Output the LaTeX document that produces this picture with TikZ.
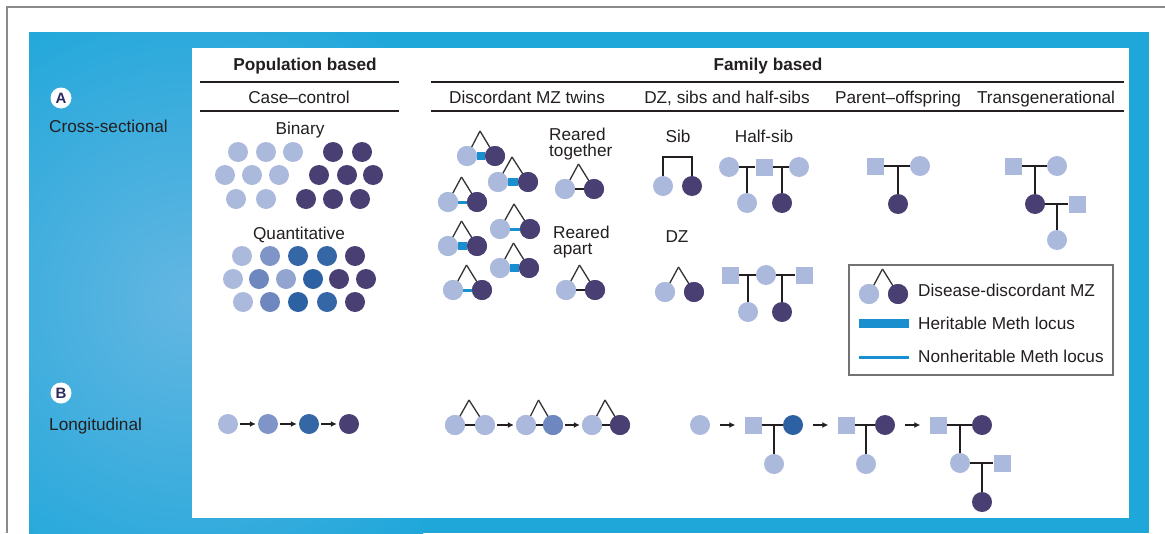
\documentclass[tikz,border=0pt]{standalone}
\usepackage{fontspec}
\setmainfont{Liberation Sans}
\usetikzlibrary{arrows.meta}
\definecolor{cLight}{HTML}{AAB9DC}
\definecolor{cMid}{HTML}{7F95C8}
\definecolor{cMidB}{HTML}{6E87BE}
\definecolor{cMidC}{HTML}{92A5D1}
\definecolor{cBlue}{HTML}{3567A7}
\definecolor{cBlueB}{HTML}{2C62A3}
\definecolor{cDark}{HTML}{4A3F72}
\definecolor{barblue}{HTML}{1A8FCF}
\definecolor{textdark}{HTML}{231F20}
\definecolor{panelblue}{HTML}{1FA7DA}
\definecolor{panellight}{HTML}{64B6E2}
\definecolor{framegray}{HTML}{8A8A8A}
\definecolor{badgetext}{HTML}{2B2A5E}
\newcommand{\mztwin}[7]{%
  \coordinate (#1a) at ({(#2+#3)/2-1},{#4-25});
  \draw[apexline] (#1a) -- (#2,#4);
  \draw[apexline] (#1a) -- (#3,#4);
  \node[pc, fill=cLight] (#1l) at (#2,#4) {};
  \node[pc, fill=#7] (#1r) at (#3,#4) {};
  \draw[#6] (#1l) -- (#1r);
  \node[pc, fill=cLight] at (#1l) {};
  \node[pc, fill=#7] at (#1r) {};
}
\begin{document}
\begin{tikzpicture}[x=1pt,y=-1pt,
  txt/.style={font=\fontsize{17.2}{15.5}\selectfont, text=textdark, inner sep=0pt, anchor=base},
  btxt/.style={txt, font=\fontsize{17.2}{15.5}\selectfont\bfseries},
  rule/.style={line width=2pt, textdark},
  pc/.style={circle, minimum size=20pt, inner sep=0pt, draw=none},
  ps/.style={rectangle, minimum size=17pt, inner sep=0pt, draw=none, fill=cLight},
  ped/.style={line width=2pt, textdark},
  apexline/.style={line width=1.3pt, black!80},
  herit/.style={line width=8pt, barblue},
  nonherit/.style={line width=3pt, barblue},
  blackbar/.style={line width=2pt, textdark},
  nobar/.style={draw=none},
  arr/.style={-{Latex[length=6pt,width=6pt]}, line width=2pt, textdark, shorten <=2pt, shorten >=2pt},
  badge/.style={circle, fill=white, minimum size=21pt, inner sep=0pt, text=badgetext, font=\fontsize{15}{15}\selectfont\bfseries}
]
\useasboundingbox (0,0) rectangle (1165,533);
\fill[white] (0,0) rectangle (1165,533);
\draw[framegray, line width=2pt] (7,533) -- (7,7) -- (1165,7);
\begin{scope}
  \clip (29,32) rectangle (1149,533);
  \fill[panelblue] (29,32) rectangle (1149,533);
  \shade[inner color=panellight, outer color=panelblue] (190,300) circle (330);
\end{scope}
\fill[white] (192,48) rectangle (1129,518);

% left labels
\node[badge] (bA) at (61,98) {A};
\node[txt, anchor=base west] (lA) at (49,132) {Cross-sectional};
\node[badge] (bB) at (61,393) {B};
\node[txt, anchor=base west] (lB) at (49,430) {Longitudinal};

% headers
\node[btxt] (hpop) at (305,70) {Population based};
\node[btxt] (hfam) at (768,70) {Family based};
\coordinate (r1a) at (200,82); \coordinate (r1b) at (399,82);
\coordinate (r2a) at (200,111); \coordinate (r2b) at (399,111);
\coordinate (r3a) at (431,82); \coordinate (r3b) at (1124,82);
\coordinate (r4a) at (431,111); \coordinate (r4b) at (1124,111);
\draw[rule] (r1a) -- (r1b); \draw[rule] (r2a) -- (r2b);
\draw[rule] (r3a) -- (r3b); \draw[rule] (r4a) -- (r4b);
\node[txt] (scc) at (299,103) {Case--control};
\node[txt] (smz) at (527,103) {Discordant MZ twins};
\node[txt] (sdz) at (727,103) {DZ, sibs and half-sibs};
\node[txt] (spo) at (898,103) {Parent--offspring};
\node[txt] (stg) at (1046,103) {Transgenerational};

% binary
\node[txt] (tbin) at (300,134) {Binary};
\foreach \x/\y [count=\i] in {238/152,266/152,293/152,225/175,252/175,279/175,236/199,266/199}
  \node[pc, fill=cLight] (bl\i) at (\x,\y) {};
\foreach \x/\y [count=\i] in {333/152,362/152,319/175,347/175,373/175,306/199,333/199,360/199}
  \node[pc, fill=cDark] (bd\i) at (\x,\y) {};

% quantitative
\node[txt] (tqu) at (299,239) {Quantitative};
\foreach \x/\y/\c [count=\i] in {242/256/cLight,270/256/cMid,298/256/cBlue,327/256/cBlue,355/256/cDark,
  233/279/cLight,259/279/cMidB,286/279/cMidC,313/279/cBlueB,339/279/cDark,366/279/cDark,
  243/302/cLight,270/302/cMidB,298/302/cBlueB,327/302/cBlue,355/302/cDark}
  \node[pc, fill=\c] (q\i) at (\x,\y) {};

% MZ twins
\mztwin{t1}{467}{495}{156}{}{herit}{cDark}
\mztwin{t2}{498}{528}{182}{}{herit}{cDark}
\mztwin{t3}{448}{477}{202}{}{nonherit}{cDark}
\mztwin{t4}{500}{530}{229}{}{nonherit}{cDark}
\mztwin{t5}{448}{477}{246}{}{herit}{cDark}
\mztwin{t6}{500}{529}{268}{}{herit}{cDark}
\mztwin{t7}{453}{482}{290}{}{nonherit}{cDark}
\node[txt, anchor=base west, align=left] (trt) at (549,156) {Reared\\together};
\mztwin{rt}{565}{594}{189}{}{blackbar}{cDark}
\node[txt, anchor=base west, align=left] (tra) at (553,254) {Reared\\apart};
\mztwin{ra}{566}{595}{290}{}{blackbar}{cDark}

% Sib
\node[txt] (tsib) at (678,142) {Sib};
\node[pc, fill=cLight] (sib1) at (663,186) {};
\node[pc, fill=cDark] (sib2) at (692,186) {};
\coordinate (sibm) at (677,157);
\draw[ped] (sib1) |- (sibm) -| (sib2);

% Half-sib
\node[txt] (thsib) at (764,142) {Half-sib};
\node[pc, fill=cLight] (hs1) at (729,167) {};
\node[ps] (hs2) at (764,167) {};
\node[pc, fill=cLight] (hs3) at (799,167) {};
\node[pc, fill=cLight] (hsc1) at (747,203) {};
\node[pc, fill=cDark] (hsc2) at (782,203) {};
\coordinate (hsm1) at (747,167); \coordinate (hsm2) at (782,167);
\draw[ped] (hs1) -- (hs2); \draw[ped] (hs2) -- (hs3);
\draw[ped] (hsm1) -- (hsc1); \draw[ped] (hsm2) -- (hsc2);

% DZ
\node[txt] (tdz) at (677,242) {DZ};
\mztwin{dz}{665}{694}{292}{}{nobar}{cDark}

% lower half-sib
\node[ps] (lh1) at (730,275) {};
\node[pc, fill=cLight] (lh2) at (766,275) {};
\node[ps] (lh3) at (804,275) {};
\node[pc, fill=cLight] (lhc1) at (748,312) {};
\node[pc, fill=cDark] (lhc2) at (782,312) {};
\coordinate (lhm1) at (748,275); \coordinate (lhm2) at (782,275);
\draw[ped] (lh1) -- (lh2); \draw[ped] (lh2) -- (lh3);
\draw[ped] (lhm1) -- (lhc1); \draw[ped] (lhm2) -- (lhc2);

% Parent-offspring
\node[ps] (po1) at (875,166) {};
\node[pc, fill=cLight] (po2) at (920,166) {};
\node[pc, fill=cDark] (poc) at (898,204) {};
\coordinate (pom) at (898,166);
\draw[ped] (po1) -- (po2); \draw[ped] (pom) -- (poc);

% Transgenerational
\node[ps] (tg1) at (1013,166) {};
\node[pc, fill=cLight] (tg2) at (1057,166) {};
\node[pc, fill=cDark] (tgc) at (1035,204) {};
\node[ps] (tg3) at (1077,204) {};
\node[pc, fill=cLight] (tgg) at (1057,240) {};
\coordinate (tgm1) at (1035,166); \coordinate (tgm2) at (1057,204);
\draw[ped] (tg1) -- (tg2); \draw[ped] (tgm1) -- (tgc);
\draw[ped] (tgc) -- (tg3); \draw[ped] (tgm2) -- (tgg);

% legend
\draw[black!55, line width=1.5pt] (849,265) rectangle (1113,375);
\mztwin{lg}{869}{898}{294}{}{nobar}{cDark}
\node[txt, anchor=base west] (lgt1) at (918,296) {Disease-discordant MZ};
\coordinate (lh1a) at (859,323); \coordinate (lh1b) at (909,323);
\draw[line width=9pt, barblue] (lh1a) -- (lh1b);
\node[txt, anchor=base west] (lgt2) at (918,329) {Heritable Meth locus};
\coordinate (lh2a) at (859,357); \coordinate (lh2b) at (909,357);
\draw[nonherit] (lh2a) -- (lh2b);
\node[txt, anchor=base west] (lgt3) at (918,362) {Nonheritable Meth locus};

% longitudinal: case-control
\node[pc, fill=cLight] (lc1) at (228,424) {};
\node[pc, fill=cMid] (lc2) at (268,424) {};
\node[pc, fill=cBlue] (lc3) at (309,424) {};
\node[pc, fill=cDark] (lc4) at (349,424) {};
\draw[arr] (lc1) -- (lc2); \draw[arr] (lc2) -- (lc3); \draw[arr] (lc3) -- (lc4);

% longitudinal: twins
\mztwin{lt1}{455}{485}{425}{}{blackbar}{cLight}
\mztwin{lt2}{526}{553}{425}{}{blackbar}{cMidB}
\mztwin{lt3}{592}{620}{425}{}{blackbar}{cDark}
\draw[arr] (lt1r) -- (lt2l); \draw[arr] (lt2r) -- (lt3l);

% longitudinal: pedigrees
\node[pc, fill=cLight] (lp0) at (700,425) {};
\node[ps] (lpa1) at (753,425) {};
\node[pc, fill=cBlueB] (lpa2) at (793,425) {};
\node[pc, fill=cLight] (lpac) at (774,464) {};
\coordinate (lpam) at (774,425);
\draw[ped] (lpa1) -- (lpa2); \draw[ped] (lpam) -- (lpac);
\node[ps] (lpb1) at (846,425) {};
\node[pc, fill=cDark] (lpb2) at (885,425) {};
\node[pc, fill=cLight] (lpbc) at (866,464) {};
\coordinate (lpbm) at (866,425);
\draw[ped] (lpb1) -- (lpb2); \draw[ped] (lpbm) -- (lpbc);
\node[ps] (lpc1) at (938,425) {};
\node[pc, fill=cDark] (lpc2) at (982,425) {};
\node[pc, fill=cLight] (lpcc) at (960,463) {};
\node[ps] (lpc3) at (1002,463) {};
\node[pc, fill=cDark] (lpcg) at (982,502) {};
\coordinate (lpcm1) at (960,425); \coordinate (lpcm2) at (982,463);
\draw[ped] (lpc1) -- (lpc2); \draw[ped] (lpcm1) -- (lpcc);
\draw[ped] (lpcc) -- (lpc3); \draw[ped] (lpcm2) -- (lpcg);
\draw[arr, shorten <=10pt, shorten >=9pt] (lp0) -- (lpa1);
\draw[arr, shorten <=10pt, shorten >=9pt] (lpa2) -- (lpb1);
\draw[arr, shorten <=10pt, shorten >=9pt] (lpb2) -- (lpc1);
\end{tikzpicture}
\end{document}
